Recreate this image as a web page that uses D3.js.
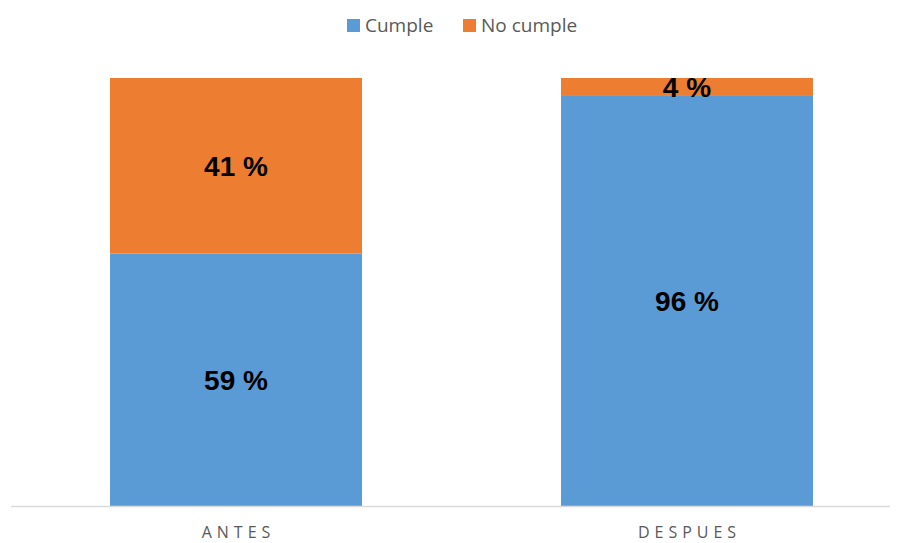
<!DOCTYPE html>
<html>
<head>
<meta charset="utf-8">
<script src="https://cdn.jsdelivr.net/npm/d3@7"></script>
<style>
  html, body { margin: 0; padding: 0; background: #fff; }
  svg { display: block; }
</style>
</head>
<body>
<svg id="chart" width="901" height="543"></svg>
<script>
// Data
const categories = ["ANTES", "DESPUES"];
const seriesNames = ["Cumple", "No cumple"];
const cumple = [59, 96];
const noCumple = [41, 4];
const colors = ["#5B9BD5", "#ED7D31"];

const svg = d3.select("#chart");
const plot = { left: 11, right: 890, top: 78, bottom: 506 };

const rows = categories.map((c, i) => ({ cat: c, "Cumple": cumple[i], "No cumple": noCumple[i] }));
const stacked = d3.stack().keys(seriesNames)(rows);

// Band scale: step 451, bar width 252
const x = d3.scaleBand()
  .domain(categories)
  .range([19.8, 903.2])
  .paddingInner(0.4412)
  .paddingOuter(0.2);

const y = d3.scaleLinear().domain([0, 100]).range([plot.bottom, plot.top]);

// Bars
const layers = svg.append("g").selectAll("g")
  .data(stacked)
  .join("g")
  .attr("fill", (d, i) => colors[i]);

layers.selectAll("rect")
  .data(d => d)
  .join("rect")
  .attr("x", d => x(d.data.cat))
  .attr("width", x.bandwidth())
  .attr("y", d => y(d[1]))
  .attr("height", d => y(d[0]) - y(d[1]));

// Value labels
layers.selectAll("text")
  .data(d => d.map(v => ({ v, key: d.key })))
  .join("text")
  .attr("x", d => x(d.v.data.cat) + x.bandwidth() / 2)
  .attr("y", d => (y(d.v[0]) + y(d.v[1])) / 2)
  .attr("dy", "0.36em")
  .attr("text-anchor", "middle")
  .attr("fill", "#000")
  .attr("font-family", "'Liberation Sans', Arial, sans-serif")
  .attr("font-weight", "bold")
  .attr("font-size", 28)
  .text(d => d.v.data[d.key] + " %");

// Category axis
const xAxis = d3.axisBottom(x).tickSize(0).tickPadding(0);
const gx = svg.append("g").attr("transform", `translate(0,${plot.bottom})`).call(xAxis);
gx.select(".domain").attr("stroke", "#D9D9D9").attr("stroke-width", 1.3)
  .attr("d", `M${plot.left},0.5H${plot.right}`);
gx.selectAll(".tick text")
  .attr("y", 32)
  .attr("dy", 0)
  .attr("fill", "#595959")
  .attr("font-family", "'Open Sans', sans-serif")
  .attr("font-size", 16)
  .attr("letter-spacing", "5px")
  .attr("dx", "2.5px");

// Legend
const legend = svg.append("g").attr("font-family", "'Open Sans', sans-serif").attr("font-size", 19);
const legendItems = [
  { name: seriesNames[0], color: colors[0], sx: 347 },
  { name: seriesNames[1], color: colors[1], sx: 463 }
];
legendItems.forEach(it => {
  legend.append("rect").attr("x", it.sx).attr("y", 19).attr("width", 13).attr("height", 13).attr("fill", it.color);
  legend.append("text").attr("x", it.sx + 18).attr("y", 32).attr("fill", "#595959").text(it.name);
});
</script>
</body>
</html>
